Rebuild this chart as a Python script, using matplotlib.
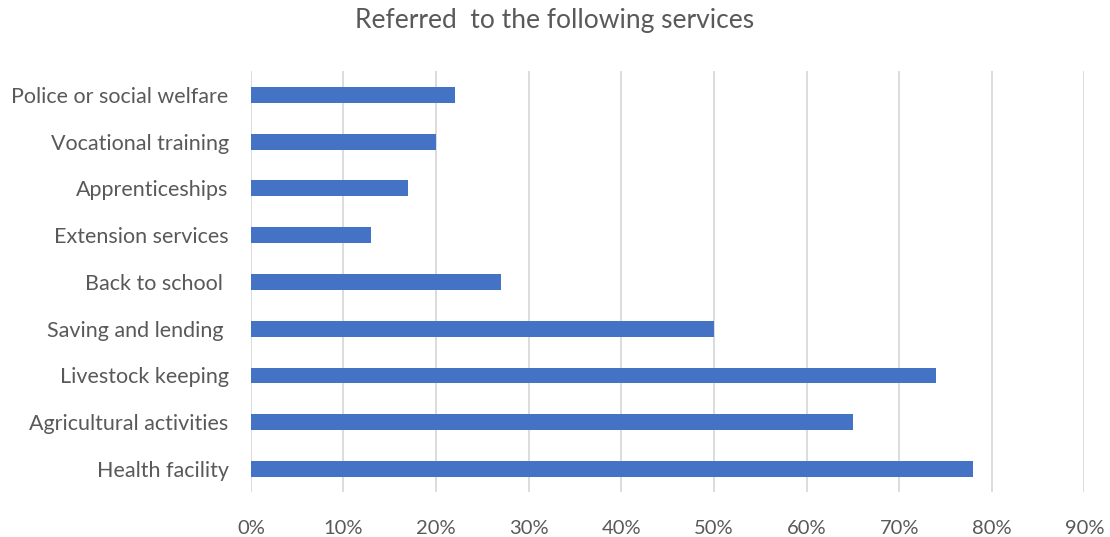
import matplotlib.pyplot as plt
from matplotlib.ticker import FuncFormatter

# Services and share of people referred to each (percent)
services = ["Health facility", "Agricultural activities", "Livestock keeping",
            "Saving and lending ", "Back to school ", "Extension services",
            "Apprenticeships", "Vocational training", "Police or social welfare"]
shares = [78, 65, 74, 50, 27, 13, 17, 20, 22]
xticks = [0, 10, 20, 30, 40, 50, 60, 70, 80, 90]

plt.rcParams['font.family'] = ['Lato', 'DejaVu Sans']
text_color = '#595959'

fig = plt.figure(figsize=(11.1, 5.37), dpi=100)
ax = fig.add_axes([0.226, 0.083, 0.751, 0.784])

ax.barh(services, shares, height=0.34, color='#4472C4', zorder=3)

ax.set_xlim(0, 90)
ax.set_ylim(-0.5, len(services) - 0.5)
ax.set_xticks(xticks)
ax.xaxis.set_major_formatter(FuncFormatter(lambda v, p: f"{v:.0f}%"))
ax.grid(True, axis='x', color='#D9D9D9', linewidth=1.3, zorder=0)

for side in ['top', 'right', 'bottom', 'left']:
    ax.spines[side].set_visible(False)
ax.tick_params(axis='both', length=0, colors=text_color)
ax.tick_params(axis='x', pad=20, labelsize=14.5)
ax.tick_params(axis='y', pad=16, labelsize=15.5)

fig.suptitle("Referred  to the following services", y=0.985, fontsize=19,
             color=text_color)

fig.savefig("out.png", dpi=100)
